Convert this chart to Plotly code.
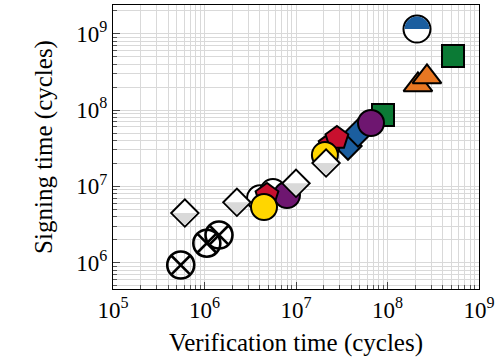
import plotly.graph_objects as go

# ---------------- data (verification cycles, signing cycles) ----------------
crossed_x = [5.5e5, 1.06e6, 1.44e6]
crossed_y = [9.3e5, 1.8e6, 2.3e6]

white_circ_x = [4.05e6, 5.6e6]
white_circ_y = [7.0e6, 8.4e6]

purple_x = [7.97e6, 6.6e7]
purple_y = [7.7e6, 6.76e7]

green_x = [8.93e7, 5.2e8]
green_y = [8.6e7, 5.1e8]

blue_dia_x = [3.7e7, 4.76e7]
blue_dia_y = [3.37e7, 5.0e7]

red_x = [4.82e6, 2.36e7, 2.8e7]
red_y = [7.7e6, 3.5e7, 4.3e7]

yellow_x = [4.47e6, 2.07e7]
yellow_y = [5.36e6, 2.57e7]

halfdia_x = [6.1e5, 2.26e6, 1.0e7, 2.13e7]
halfdia_y = [4.47e6, 6.2e6, 1.1e7, 2.02e7]

orange_x = [2.15e8, 2.7e8]
orange_y = [2.13e8, 2.71e8]

halfcirc_x = [2.1e8]
halfcirc_y = [1.15e9]

x_tickvals = [1e5, 1e6, 1e7, 1e8, 1e9]
x_ticktext = ['10<sup>5</sup>', '10<sup>6</sup>', '10<sup>7</sup>', '10<sup>8</sup>', '10<sup>9</sup>']
y_tickvals = [1e6, 1e7, 1e8, 1e9]
y_ticktext = ['10<sup>6</sup>', '10<sup>7</sup>', '10<sup>8</sup>', '10<sup>9</sup>']

# ---------------- styles ----------------
BLUE = '#1b5e9f'
GREEN = '#0b7a35'
ORANGE = '#e87722'
RED = '#c8102e'
PURPLE = '#6e1670'
YELLOW = '#ffd600'
LGRAY = '#d9d9d9'
FONT = 'Liberation Serif'
OUT = dict(color='black', width=2)

fig = go.Figure()


def add(x, y, symbol, color, size, line=OUT):
    fig.add_trace(go.Scatter(x=x, y=y, mode='markers', showlegend=False, hoverinfo='skip',
                             marker=dict(symbol=symbol, color=color, size=size, line=line)))


add(crossed_x, crossed_y, 'circle-x-open', 'black', 27, dict(color='black', width=2.6))
add(white_circ_x, white_circ_y, 'circle', 'white', 26)
add(purple_x[:1], purple_y[:1], 'circle', PURPLE, 26)
add(red_x[:1], red_y[:1], 'pentagon', RED, 24)
add(yellow_x[:1], yellow_y[:1], 'circle', YELLOW, 26)
add(green_x, green_y, 'square', GREEN, 22)
add(blue_dia_x, blue_dia_y, 'diamond', BLUE, 21)
add(purple_x[1:], purple_y[1:], 'circle', PURPLE, 26)
add(red_x[1:], red_y[1:], 'pentagon', RED, 24)
add(yellow_x[1:], yellow_y[1:], 'circle', YELLOW, 26)
add(halfdia_x, halfdia_y, 'diamond', 'white', 21)
add(orange_x, orange_y, 'triangle-up', ORANGE, 25)
add(halfcirc_x, halfcirc_y, 'circle', 'white', 27)

shapes = []
# lower half of each half-filled diamond (pixel geometry anchored at data point)
rd = 1.3 * 21 / 2 - 1.2
for xv, yv in zip(halfdia_x, halfdia_y):
    shapes.append(dict(type='path', xref='x', yref='y', xsizemode='pixel', ysizemode='pixel',
                       xanchor=xv, yanchor=yv, layer='above',
                       path=f'M {-rd},0 L {rd},0 L 0,{-rd} Z',
                       fillcolor=LGRAY, line=dict(width=0)))
# upper half of the half-filled circle
r = 27 / 2 - 1.0
k = 0.5523 * r
for xv, yv in zip(halfcirc_x, halfcirc_y):
    shapes.append(dict(type='path', xref='x', yref='y', xsizemode='pixel', ysizemode='pixel',
                       xanchor=xv, yanchor=yv, layer='above',
                       path=(f'M {-r},0 C {-r},{k} {-k},{r} 0,{r} '
                             f'C {k},{r} {r},{k} {r},0 Z'),
                       fillcolor=BLUE, line=dict(width=0)))

axis_common = dict(type='log', showline=True, linecolor='black', linewidth=1.2, mirror=True,
                   ticks='inside', ticklen=7, tickcolor='#444', tickwidth=1,
                   showgrid=True, gridcolor=LGRAY, gridwidth=1, automargin=False,
                   zeroline=False,
                   tickfont=dict(family=FONT, size=23, color='black'),
                   minor=dict(ticks='inside', ticklen=4, tickcolor='#555', dtick='D1',
                              showgrid=True, gridcolor=LGRAY, gridwidth=1))

TITLE_FONT = dict(family=FONT, size=25, color='black')

fig.update_layout(
    width=497, height=361,
    margin=dict(l=113, r=18, t=5, b=72),
    paper_bgcolor='white', plot_bgcolor='white',
    shapes=shapes,
    xaxis=dict(range=[5, 9], tickvals=x_tickvals, ticktext=x_ticktext,
               title=dict(text='Verification time (cycles)', font=TITLE_FONT, standoff=11),
               **axis_common),
    yaxis=dict(range=[5.655, 9.376], tickvals=y_tickvals, ticktext=y_ticktext,
               title=dict(text='Signing time (cycles)', font=TITLE_FONT, standoff=16),
               **axis_common),
)

fig.write_html('out.html', post_script="document.body.style.margin='0';",
               config={'displayModeBar': False})
